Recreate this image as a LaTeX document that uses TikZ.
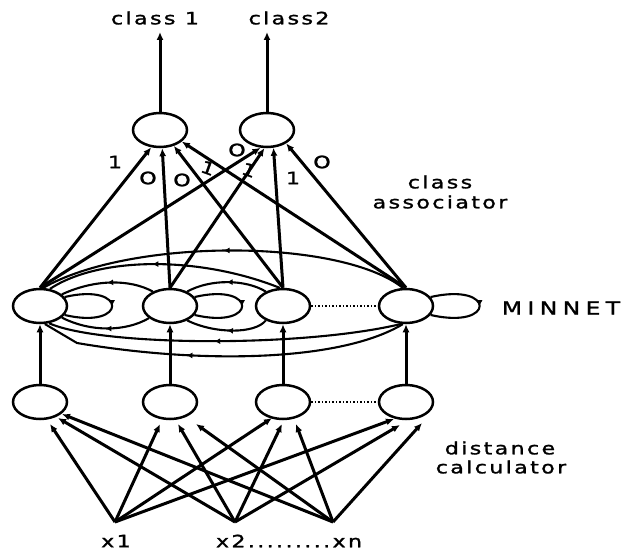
\documentclass[tikz,border=0pt]{standalone}
\usepackage{fontspec}
\newfontfamily\labfont[FakeStretch=1.3,LetterSpace=14,FakeBold=1.5]{DejaVu Sans}
\newfontfamily\bigfont[FakeStretch=1.3,LetterSpace=30,FakeBold=1.5]{DejaVu Sans}
\usetikzlibrary{shapes.geometric,arrows.meta,decorations.markings,calc}
\begin{document}
\begin{tikzpicture}[x=1pt,y=-1pt,
  neuron/.style={ellipse,draw,line width=2.5pt,minimum width=54pt,minimum height=34pt,inner sep=0pt},
  conn/.style={line width=3pt,-{Latex[length=8pt,width=7pt]}},
  inh/.style={line width=2.1pt,postaction={decorate},
    decoration={markings,mark=at position #1 with {\arrow{Latex[length=6pt,width=6pt]}}}},
  inh/.default=0.5,
  lab/.style={font=\labfont\fontsize{17}{17}\selectfont,inner sep=0pt},
  big/.style={font=\bigfont\fontsize{18}{18}\selectfont,inner sep=0pt},
  dots/.style={line width=2pt,dash pattern=on 1.5pt off 2pt}
]
\useasboundingbox (0,0) rectangle (628,551);

% class layer
\node[neuron] (c1) at (160,130) {};
\node[neuron] (c2) at (267,130) {};
\coordinate (o1) at (160,32);
\coordinate (o2) at (267,32);
\draw[conn] (c1.north) -- (o1);
\draw[conn] (c2.north) -- (o2);
\node[lab] (t1) at (155,18) {class 1};
\node[lab] (t2) at (289,18) {class2};

% MINNET layer
\node[neuron] (m1) at (40,306) {};
\node[neuron] (m2) at (170,306) {};
\node[neuron] (m3) at (283,306) {};
\node[neuron] (m4) at (406,306) {};

% distance layer
\node[neuron] (b1) at (40,402) {};
\node[neuron] (b2) at (170,402) {};
\node[neuron] (b3) at (283,402) {};
\node[neuron] (b4) at (406,402) {};

% inputs
\coordinate (x1) at (115,522);
\coordinate (x2) at (235,522);
\coordinate (xn) at (333,522);
\node[lab] (lx1) at (116,541) {x1};
\node[lab] (lx2) at (289,541) {x2.........xn};

% class associator connections
\draw[conn] (m1.north) -- (c1.243);
\draw[conn] (m2.north) -- (c1.277);
\draw[conn] (m3.north) -- (c1.311);
\draw[conn] (m4.north) -- (c1.332);
\draw[conn] (m1.north) -- (c2.250);
\draw[conn] (m2.north) -- (c2.262);
\draw[conn] (m3.north) -- (c2.290);
\draw[conn] (m4.north) -- (c2.325);

% weights
\node[lab] (w1) at (115,162) {1};
\node[lab] (w2) at (148,178) {O};
\node[lab] (w3) at (182,180) {O};
\node[lab,rotate=-20] (w4) at (208,168) {1};
\node[lab] (w5) at (237,150) {O};
\node[lab,rotate=-20] (w6) at (249,170) {1};
\node[lab] (w7) at (293,178) {1};
\node[lab] (w8) at (322,162) {O};

\node[lab] (ca1) at (440,182) {class};
\node[lab] (ca2) at (440,202) {associator};

% MINNET inhibitory arcs
\draw[inh] (m4.100) .. controls (340,238) and (130,238) .. (m1.80);
\draw[inh=0.55] (m3.100) .. controls (200,256) and (100,256) .. (m1.60);
\draw[inh] (m2.140) .. controls (130,279) and (95,279) .. (m1.28);
\draw[inh] (m3.140) .. controls (245,279) and (210,279) .. (m2.40);
\draw[inh] (m2.-150) .. controls (125,332) and (90,332) .. (m1.-28);
\draw[inh] (m3.-140) .. controls (255,334) and (215,334) .. (m2.-40);
\draw[inh=0.53] (m4.-105) .. controls (300,348) and (100,346) .. (m1.-62);
\draw[inh=0.6] (m4.-100) .. controls (340,362) and (200,364) .. (77,343) -- (m1.-75);

% self loops
\draw[inh] (m1.20) .. controls (128,282) and (128,330) .. (m1.-20);
\draw[inh] (m2.20) .. controls (258,282) and (258,330) .. (m2.-20);
\draw[inh] (m4.20) .. controls (496,282) and (496,330) .. (m4.-20);

\draw[dots] (m3.east) -- (m4.west);
\node[big] (mn) at (561,308) {MINNET};

% distance to MINNET
\draw[conn] (b1.north) -- (m1.south);
\draw[conn] (b2.north) -- (m2.south);
\draw[conn] (b3.north) -- (m3.south);
\draw[conn] (b4.north) -- (m4.south);
\draw[dots] (b3.east) -- (b4.west);

% inputs to distance layer
\draw[conn] (x1) -- ($(b1)+(10,22)$);
\draw[conn] (x2) -- ($(b1)+(18,16)$);
\draw[conn] (xn) -- ($(b1)+(22,12)$);
\draw[conn] (x1) -- ($(b2)+(-10,22)$);
\draw[conn] (x2) -- ($(b2)+(8,22)$);
\draw[conn] (xn) -- ($(b2)+(26,22)$);
\draw[conn] (x1) -- ($(b3)+(-11,16)$);
\draw[conn] (x2) -- ($(b3)+(-1,22)$);
\draw[conn] (xn) -- ($(b3)+(13,22)$);
\draw[conn] (x1) -- ($(b4)+(-12,17)$);
\draw[conn] (x2) -- ($(b4)+(-6,23)$);
\draw[conn] (xn) -- ($(b4)+(16,21)$);

\node[lab] (d1) at (500,448) {distance};
\node[lab] (d2) at (501,467) {calculator};
\end{tikzpicture}
\end{document}
